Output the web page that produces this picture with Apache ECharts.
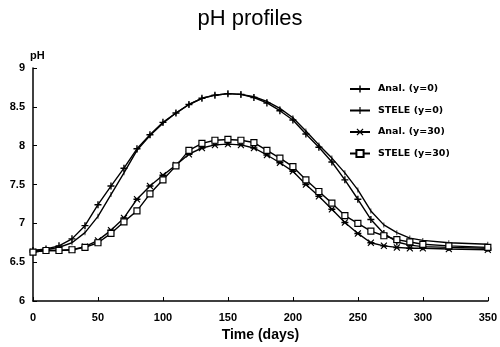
<!DOCTYPE html>
<html>
<head>
<meta charset="utf-8">
<script src="https://cdn.jsdelivr.net/npm/echarts@6/dist/echarts.min.js"></script>
<style>html,body{margin:0;padding:0;background:#fff}#c{width:500px;height:347px}</style>
</head>
<body>
<div id="c"></div>
<script>
const days = [0,10,20,30,40,50,60,70,80,90,100,110,120,130,140,150,160,170,180,190,200,210,220,230,240,250,260,270,280,290,300,320,350];
const analY0 = [6.65,6.67,6.71,6.80,6.97,7.24,7.48,7.71,7.96,8.14,8.30,8.42,8.53,8.61,8.65,8.67,8.66,8.62,8.55,8.45,8.33,8.15,7.98,7.79,7.56,7.31,7.05,6.87,6.76,6.72,6.70,6.69,6.68];
const steleY0 = [6.65,6.66,6.69,6.75,6.88,7.09,7.37,7.65,7.94,8.13,8.29,8.42,8.53,8.61,8.65,8.67,8.66,8.63,8.57,8.48,8.36,8.19,8.01,7.84,7.65,7.43,7.16,6.98,6.88,6.81,6.78,6.75,6.73];
const analY30 = [6.63,6.65,6.65,6.66,6.70,6.78,6.91,7.07,7.31,7.48,7.62,7.75,7.89,7.97,8.01,8.02,8.01,7.97,7.88,7.78,7.67,7.50,7.35,7.18,7.01,6.87,6.75,6.71,6.69,6.68,6.68,6.67,6.66];
const steleY30 = [6.63,6.65,6.65,6.66,6.69,6.75,6.87,7.02,7.16,7.38,7.56,7.74,7.94,8.03,8.07,8.08,8.07,8.04,7.94,7.84,7.73,7.56,7.41,7.26,7.10,7.00,6.90,6.84,6.79,6.76,6.73,6.71,6.69];
const seriesNames = ['Anal. (y=0)','STELE (y=0)','Anal. (y=30)','STELE (y=30)'];
const xTicks = [0,50,100,150,200,250,300,350];
const yTicks = [6,6.5,7,7.5,8,8.5,9];

const pair = v => days.map((d,i)=>[d,v[i]]);
const plusSym = 'path://M4,0h2v4h4v2h-4v4h-2v-4h-4v-2h4z';
const starSym = 'path://M0,4h10v2h-10z M1.2,0.2L5,3.6L8.8,0.2L9.8,1.2L6.4,5L9.8,8.8L8.8,9.8L5,6.4L1.2,9.8L0.2,8.8L3.6,5L0.2,1.2z';
const tickSym = 'path://M4.2,0h1.6v10h-1.6z M0,0h0.01v0.01h-0.01z M9.99,9.99h0.01v0.01h-0.01z';
const font = 'Liberation Sans, Arial, sans-serif';
const bfont = 'DejaVu Sans, sans-serif';

const chart = echarts.init(document.getElementById('c'), null, {renderer:'canvas'});
const mk = (name, data, symbol, size, fill) => ({
  name, type:'line', data: pair(data), symbol, symbolSize: size, showSymbol:true,
  lineStyle:{color:'#000', width:1.4}, itemStyle:{color: fill || '#000', borderColor:'#000', borderWidth: fill ? 1.2 : 0},
  emphasis:{disabled:true}, animation:false, z: 2
});
chart.setOption({
  animation:false,
  title:{text:'pH profiles', left:'center', top:3, textStyle:{fontFamily:font, fontWeight:'normal', fontSize:22, color:'#000'}},
  legend:{
    orient:'vertical', left:349, top:84, padding:0, itemWidth:20, itemHeight:9, itemGap:11.5,
    data: seriesNames,
    textStyle:{fontFamily:bfont, fontWeight:'bold', fontSize:9.5, color:'#000', padding:[0,0,0,3]},
    inactiveColor:'#000'
  },
  grid:{left:33, right:12, top:68, bottom:45, containLabel:false},
  xAxis:{
    type:'value', min:0, max:350, interval:50,
    name:'Time (days)', nameLocation:'middle', nameGap:27,
    nameTextStyle:{fontFamily:font, fontSize:14, fontWeight:'bold', color:'#000'},
    axisLine:{lineStyle:{color:'#000', width:1.5}},
    axisTick:{inside:true, length:4, lineStyle:{color:'#000'}},
    axisLabel:{fontFamily:font, fontWeight:'bold', fontSize:11, color:'#000', margin:11, formatter: v => xTicks.includes(v) ? String(v) : ''},
    splitLine:{show:false}
  },
  yAxis:{
    type:'value', min:6, max:9, interval:0.5,
    name:'pH', nameLocation:'end', nameGap:7,
    nameTextStyle:{fontFamily:font, fontSize:11, fontWeight:'bold', color:'#000', align:'left', padding:[0,0,0,-3]},
    axisLine:{show:true, lineStyle:{color:'#000', width:1.5}},
    axisTick:{show:true, inside:true, length:4, lineStyle:{color:'#000'}},
    axisLabel:{fontFamily:font, fontWeight:'bold', fontSize:11, color:'#000', margin:8, formatter: v => yTicks.includes(v) ? String(v) : ''},
    splitLine:{show:false}
  },
  series:[
    mk(seriesNames[0], analY0, plusSym, 7),
    mk(seriesNames[1], steleY0, tickSym, 5),
    mk(seriesNames[2], analY30, starSym, 7),
    mk(seriesNames[3], steleY30, 'rect', 6, '#fff')
  ]
});
</script>
</body>
</html>
